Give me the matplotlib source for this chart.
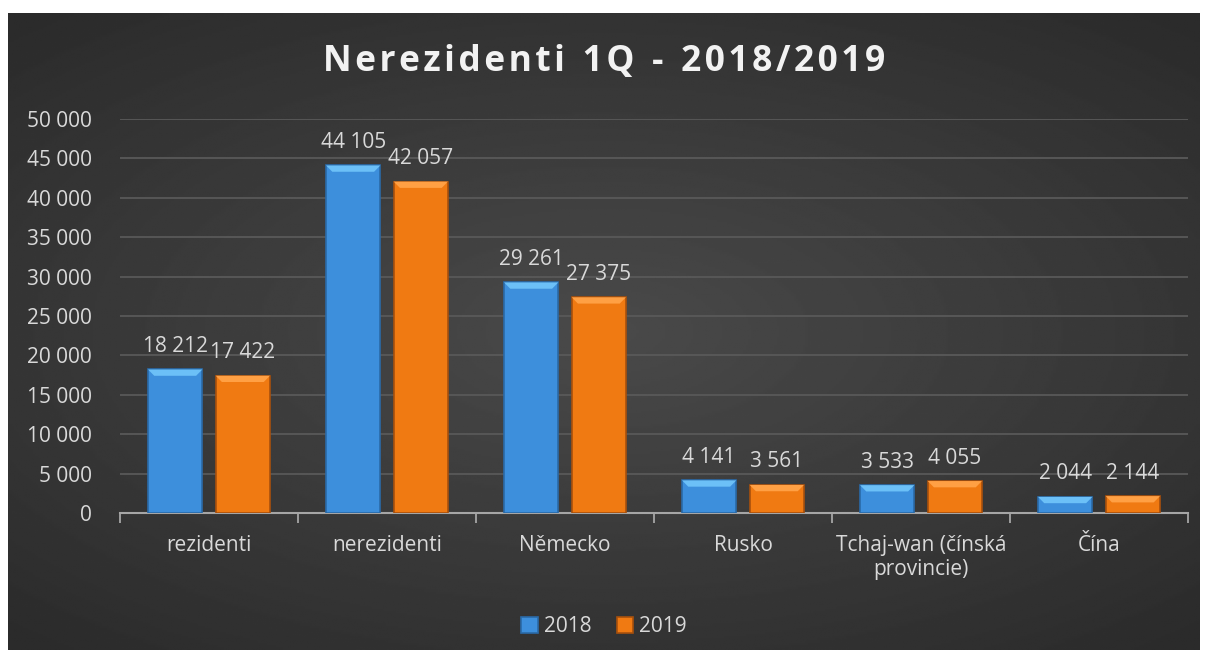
import numpy as np
import matplotlib.pyplot as plt
from matplotlib.patches import Polygon

categories = ["rezidenti", "nerezidenti", "Německo", "Rusko",
              "Tchaj-wan (čínská\nprovincie)", "Čína"]
years = ["2018", "2019"]
v2018 = [18212, 44105, 29261, 4141, 3533, 2044]
v2019 = [17422, 42057, 27375, 3561, 4055, 2144]
yticks = np.arange(0, 50001, 5000)

plt.rcParams['font.family'] = ['Open Sans', 'DejaVu Sans']
txt = '#d9d9d9'
fs = 15

fig = plt.figure(figsize=(12.08, 6.57), dpi=100, facecolor='white')

# dark radial background panel
bg = fig.add_axes([8/1208, 7/657, 1192/1208, 637/657])
yy, xx = np.mgrid[-1:1:300j, -1:1:500j]
r = np.sqrt(xx**2 * 0.8 + yy**2)
bg.imshow(0.29 - 0.12 * np.clip(r / 1.3, 0, 1), cmap='gray', vmin=0, vmax=1,
          aspect='auto', extent=[0, 1, 0, 1])
bg.axis('off')

ax = fig.add_axes([120/1208, 1 - 513/657, 1068/1208, 394/657])
ax.set_facecolor('none')
x = np.arange(len(categories))
w = 0.305
off = 0.19

def bevel_bars(xs, vals, main, light, dark):
    bars = ax.bar(xs, vals, w, color=main, edgecolor=dark, linewidth=1.2, zorder=3)
    hx = 0.035
    hy = 800
    for b in bars:
        x0, x1, h = b.get_x(), b.get_x() + b.get_width(), b.get_height()
        d = min(hy, h * 0.45)
        ax.add_patch(Polygon([[x0, h], [x1, h], [x1 - hx, h - d], [x0 + hx, h - d]],
                             closed=True, color=light, zorder=4, lw=0))
    return bars

b1 = bevel_bars(x - off, v2018, '#3d8fdc', '#6cc0f7', '#2a6aa8')
b2 = bevel_bars(x + off, v2019, '#f07a12', '#ffa044', '#a8500c')

def fmt(v):
    return f"{v:,}".replace(",", " ")

for bars, vals in ((b1, v2018), (b2, v2019)):
    for b, v in zip(bars, vals):
        ax.annotate(fmt(v), (b.get_x() + b.get_width() / 2, v), xytext=(0, 9),
                    textcoords='offset points', ha='center', va='bottom',
                    color=txt, fontsize=fs, zorder=5)

ax.set_xlim(-0.5, len(categories) - 0.5)
ax.set_ylim(0, 50000)
ax.set_yticks(yticks)
ax.set_yticklabels([fmt(v) for v in yticks], color=txt, fontsize=fs)
ax.yaxis.grid(True, color='#595959', linewidth=1.3, zorder=0)
ax.set_axisbelow(True)
ax.tick_params(axis='y', length=0, pad=20)

ax.set_xticks(np.arange(-0.5, len(categories), 1))
ax.set_xticklabels([])
ax.set_xticks(x, minor=True)
ax.set_xticklabels(categories, minor=True, color=txt, fontsize=fs)
ax.tick_params(axis='x', which='major', length=7, width=1.3, color='#a6a6a6', direction='out')
ax.tick_params(axis='x', which='minor', length=0, pad=16)
for s in ('top', 'right', 'left'):
    ax.spines[s].set_visible(False)
ax.spines['bottom'].set_color('#a6a6a6')
ax.spines['bottom'].set_linewidth(1.5)

title = "\u2002".join("\u200a".join(word) for word in "Nerezidenti 1Q - 2018/2019".split(" "))
fig.text(0.5, 1 - 62/657, title, ha='center', va='center', color='#f2f2f2',
         fontsize=25.5, fontweight='bold')

leg = fig.legend([b1[0], b2[0]], years, loc='center', bbox_to_anchor=(0.5, 1 - 627/657),
                 ncol=2, frameon=False, fontsize=fs, labelcolor=txt,
                 handlelength=0.8, handleheight=0.8, handletextpad=0.3, columnspacing=1.2)

fig.savefig('out.png', dpi=100, facecolor='white')
